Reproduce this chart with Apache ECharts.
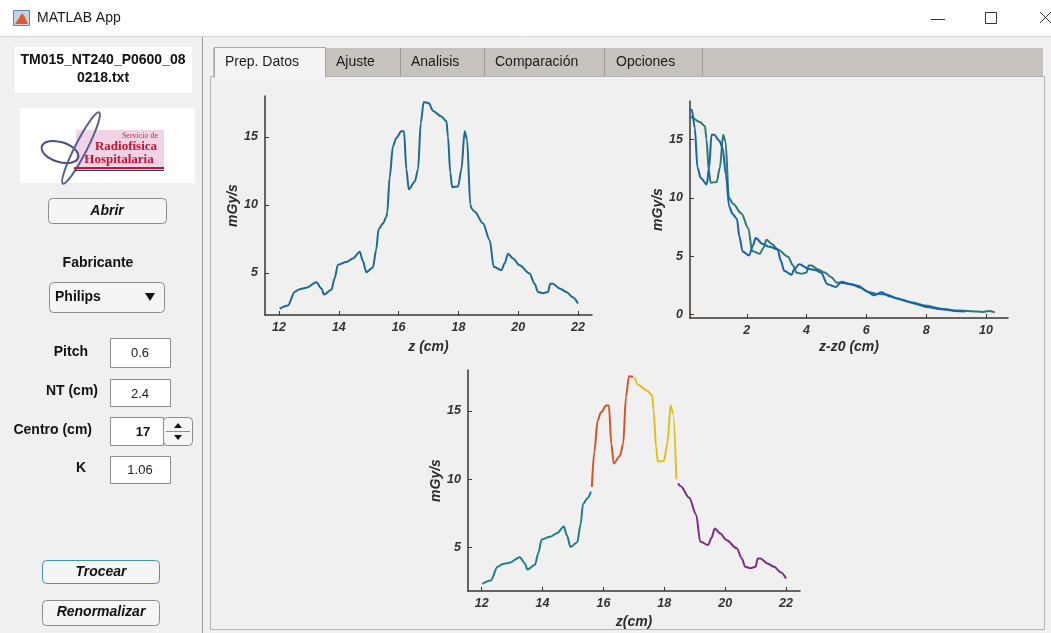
<!DOCTYPE html>
<html>
<head>
<meta charset="utf-8">
<title>MATLAB App</title>
<script src="https://cdn.jsdelivr.net/npm/echarts@6.0.0/dist/echarts.min.js"></script>
<style>
  html, body { margin: 0; padding: 0; background: #f0f0f0; }
  #app { width: 1051px; height: 633px; }
</style>
</head>
<body>
<div id="app"></div>
<script>
// dose profile along z (cm) -> mGy/s
var profileZ = [12.02, 12.3, 12.52, 12.69, 12.91, 13.25, 13.42, 13.5, 13.75, 13.86, 13.97, 14.25, 14.47, 14.7, 14.8, 14.92,
  15.14, 15.25, 15.33, 15.47, 15.59, 15.62, 15.7, 15.81, 15.92, 16.09, 16.18, 16.26, 16.34, 16.54, 16.65, 16.74, 16.84, 16.98,
  17.02, 17.15, 17.43, 17.6, 17.65, 17.73, 17.79, 17.99, 18.1, 18.21, 18.29, 18.4, 18.45, 18.54, 18.82, 19.05, 19.18, 19.44,
  19.55, 19.66, 19.83, 20.05, 20.38, 20.55, 20.66, 20.83, 21.0, 21.07, 21.16, 21.39, 21.61, 21.83, 22.0];
var profileDose = [2.36, 2.6, 3.6, 3.8, 3.9, 4.3, 3.85, 3.4, 3.75, 4.6, 5.6, 5.8, 6.05, 6.55, 5.9, 5.05,
  5.4, 6.7, 8.2, 8.6, 9.1, 9.45, 12.0, 14.3, 14.9, 15.4, 15.4, 12.6, 11.15, 11.7, 12.6, 16.0, 17.55, 17.5,
  17.45, 16.9, 16.5, 16.15, 15.05, 12.35, 11.3, 11.35, 12.6, 15.4, 14.8, 10.0, 9.7, 9.5, 8.65, 7.4, 5.45, 5.2,
  5.7, 6.4, 6.05, 5.55, 4.95, 4.2, 3.6, 3.5, 3.6, 4.2, 4.2, 3.85, 3.6, 3.2, 2.75];

// folded profile, z - z0 (cm)
var leftDist = [0.02, 0.16, 0.26, 0.35, 0.46, 0.66, 0.74, 0.82, 0.91, 1.08, 1.19, 1.3, 1.41, 1.53, 1.67, 1.75, 1.86,
  2.08, 2.2, 2.3, 2.53, 2.75, 3.03, 3.14, 3.25, 3.5, 3.58, 3.75, 4.09, 4.31, 4.48, 4.7, 4.98,
  5.17, 5.45, 5.75, 6.0, 6.25, 6.5, 6.8, 7.2, 7.6, 8.0, 8.5, 9.0, 9.3];
var leftDose = [17.6, 17.55, 16.0, 12.6, 11.7, 11.15, 12.6, 15.4, 15.4, 14.9, 14.3, 12.0, 9.25, 8.6, 8.2, 6.7, 5.4,
  5.05, 5.9, 6.55, 6.05, 5.8, 5.6, 4.6, 3.75, 3.4, 3.85, 4.3, 3.9, 3.8, 3.6, 2.6, 2.36,
  2.8, 2.6, 2.45, 2.0, 1.65, 1.9, 1.55, 1.25, 0.95, 0.65, 0.45, 0.3, 0.25];
var rightDist = [0.03, 0.15, 0.43, 0.6, 0.65, 0.73, 0.79, 0.99, 1.1, 1.21, 1.29, 1.4, 1.54, 1.82, 2.05, 2.18, 2.44,
  2.55, 2.66, 2.83, 3.05, 3.38, 3.55, 3.66, 3.83, 4.0, 4.07, 4.16, 4.39, 4.61, 4.83, 5.0,
  5.2, 5.5, 5.8, 6.1, 6.4, 6.7, 7.0, 7.5, 8.0, 8.5, 9.0, 9.5, 9.9, 10.1, 10.3];
var rightDose = [17.45, 16.9, 16.5, 16.15, 15.05, 12.35, 11.3, 11.35, 12.6, 15.4, 14.8, 10.0, 9.5, 8.65, 7.4, 5.45, 5.2,
  5.7, 6.4, 6.05, 5.55, 4.95, 4.2, 3.6, 3.5, 3.6, 4.2, 4.2, 3.85, 3.6, 3.2, 2.75,
  2.7, 2.6, 2.3, 1.9, 1.75, 1.7, 1.4, 1.05, 0.75, 0.5, 0.35, 0.28, 0.22, 0.3, 0.18];

// section limits used to cut the profile (Centro 17, NT 2.4)
var sectionCuts = [15.6, 17.0, 18.42];

var zTicks = [12, 14, 16, 18, 20, 22];
var doseTicks = [5, 10, 15];
var distTicks = [2, 4, 6, 8, 10];
var doseTicksZero = [0, 5, 10, 15];

var FONT = '"Liberation Sans", Arial, sans-serif';
var SERIF = '"Liberation Serif", "DejaVu Serif", serif';

function pairs(xs, ys) {
  return xs.map(function (x, i) { return [x, ys[i]]; });
}

function section(k) {
  var lo = k === 0 ? -Infinity : sectionCuts[k - 1];
  var hi = k === sectionCuts.length ? Infinity : sectionCuts[k];
  var out = [];
  for (var i = 0; i < profileZ.length; i++) {
    if (profileZ[i] >= lo && profileZ[i] < hi) out.push([profileZ[i], profileDose[i]]);
  }
  return out;
}

function axis(grid, min, max, ticks, name, gap, isY) {
  return {
    type: 'value', gridIndex: grid, min: min, max: max,
    name: name, nameLocation: 'middle', nameGap: gap,
    nameTextStyle: { fontFamily: FONT, fontWeight: 'bold', fontStyle: 'italic', fontSize: 14, color: '#2b2b2b' },
    axisLine: { show: true, onZero: false, lineStyle: { color: '#3a3530', width: 1.5 } },
    axisTick: { show: true, inside: true, length: 4, customValues: ticks, lineStyle: { color: '#3a3530' } },
    axisLabel: { customValues: ticks, fontFamily: FONT, fontWeight: 'bold', fontStyle: 'italic',
      fontSize: 12.5, color: '#333', margin: isY ? 7 : 6 },
    splitLine: { show: false }
  };
}

function line(grid, data, color) {
  return {
    type: 'line', xAxisIndex: grid, yAxisIndex: grid, data: data,
    showSymbol: false, smooth: 0.3, smoothMonotone: 'x', silent: true,
    lineStyle: { color: color, width: 2 }, z: 3
  };
}

// ---- window chrome drawn with graphic elements ----
function txt(x, y, s, font, align, color) {
  return { type: 'text', x: x, y: y, silent: true,
    style: { text: s, font: font, fill: color || '#111', align: align || 'left', verticalAlign: 'middle' } };
}
function box(x, y, w, h, fill, stroke, r) {
  return { type: 'rect', silent: true, shape: { x: x, y: y, width: w, height: h, r: r || 0 },
    style: { fill: fill, stroke: stroke || null, lineWidth: 1 } };
}
function seg(x1, y1, x2, y2, color, w) {
  return { type: 'line', silent: true, shape: { x1: x1, y1: y1, x2: x2, y2: y2 },
    style: { stroke: color, lineWidth: w || 1 } };
}

var ui = [];
// title bar
ui.push(box(0, 0, 1051, 36, '#ffffff'));
ui.push(seg(0, 36.5, 1051, 36.5, '#d6d6d6'));
ui.push(box(13.5, 10.5, 16, 15, '#c7d3e3', '#6a85ab'));
ui.push({ type: 'polygon', silent: true, shape: { points: [[15, 24], [19, 18], [22, 13], [25, 17], [28, 24]] },
  style: { fill: '#de5a2b' } });
ui.push(txt(37, 18, 'MATLAB App', '14px ' + FONT, 'left', '#1a1a1a'));
ui.push(seg(931, 19.5, 945, 19.5, '#333'));
ui.push(box(985.5, 12.5, 11, 11, 'none', '#333'));
ui.push(seg(1040, 12, 1051, 23, '#333'));
ui.push(seg(1051, 12, 1040, 23, '#333'));

// left panel
ui.push(seg(202.5, 37, 202.5, 633, '#9b9b9b'));
ui.push(box(15, 47, 177, 46, '#ffffff'));
ui.push(txt(103, 60, 'TM015_NT240_P0600_08', 'bold 14px ' + FONT, 'center'));
ui.push(txt(103, 78, '0218.txt', 'bold 14px ' + FONT, 'center'));

// logo
ui.push(box(20, 108, 175, 75, '#ffffff'));
ui.push(box(76, 130, 88, 41, '#f0d4e6'));
ui.push({ type: 'ellipse', silent: true, x: 60, y: 152, rotation: -0.3,
  shape: { cx: 0, cy: 0, rx: 19, ry: 10 }, style: { fill: 'none', stroke: '#4b4f8c', lineWidth: 2 } });
ui.push({ type: 'ellipse', silent: true, x: 81, y: 148, rotation: 1.1,
  shape: { cx: 0, cy: 0, rx: 40, ry: 6 }, style: { fill: 'none', stroke: '#5a5f98', lineWidth: 2 } });
ui.push(txt(140, 136, 'Servicio de', '8px ' + SERIF, 'center', '#c8303a'));
ui.push(txt(126, 147, 'Radiofísica', 'bold 13px ' + SERIF, 'center', '#c8102e'));
ui.push(txt(119, 160, 'Hospitalaria', 'bold 13px ' + SERIF, 'center', '#c8102e'));
ui.push(seg(74, 168, 164, 168, '#d0102a', 2));
ui.push(seg(74, 170.5, 164, 170.5, '#2c3a8c', 1));

ui.push(box(48.5, 198.5, 118, 25, '#f5f5f5', '#8c8c8c', 4));
ui.push(txt(107, 211, 'Abrir', 'italic bold 14px ' + FONT, 'center'));
ui.push(txt(98, 263, 'Fabricante', 'bold 14px ' + FONT, 'center'));
ui.push(box(49.5, 282.5, 115, 30, '#f5f5f5', '#8c8c8c', 4));
ui.push(txt(55, 297, 'Philips', 'bold 14px ' + FONT, 'left'));
ui.push({ type: 'polygon', silent: true, shape: { points: [[145, 293], [155, 293], [150, 301]] }, style: { fill: '#111' } });

ui.push(txt(88, 352, 'Pitch', 'bold 14px ' + FONT, 'right'));
ui.push(box(110.5, 338.5, 60, 29, '#ffffff', '#8c8c8c'));
ui.push(txt(140, 353, '0.6', '13px ' + FONT, 'center', '#222'));
ui.push(txt(98, 391, 'NT (cm)', 'bold 14px ' + FONT, 'right'));
ui.push(box(110.5, 379.5, 60, 27, '#ffffff', '#8c8c8c'));
ui.push(txt(140, 394, '2.4', '13px ' + FONT, 'center', '#222'));
ui.push(txt(92, 430, 'Centro (cm)', 'bold 14px ' + FONT, 'right'));
ui.push(box(110.5, 417.5, 53, 28, '#ffffff', '#8c8c8c'));
ui.push(txt(143, 432, '17', 'bold 13px ' + FONT, 'center'));
ui.push(box(163.5, 417.5, 29, 28, '#f5f5f5', '#8c8c8c', 4));
ui.push(seg(166, 431.5, 190, 431.5, '#8c8c8c'));
ui.push({ type: 'polygon', silent: true, shape: { points: [[174, 428], [182, 428], [178, 423]] }, style: { fill: '#111' } });
ui.push({ type: 'polygon', silent: true, shape: { points: [[174, 435], [182, 435], [178, 440]] }, style: { fill: '#111' } });
ui.push(txt(86, 468, 'K', 'bold 14px ' + FONT, 'right'));
ui.push(box(110.5, 456.5, 60, 27, '#ffffff', '#8c8c8c'));
ui.push(txt(140, 470, '1.06', '13px ' + FONT, 'center', '#222'));

ui.push(box(42.5, 560.5, 117, 23, '#f5f5f5', '#3f98a8', 4));
ui.push(txt(101, 572, 'Trocear', 'italic bold 14px ' + FONT, 'center'));
ui.push(box(42.5, 600.5, 117, 25, '#f5f5f5', '#8c8c8c', 4));
ui.push(txt(101, 612, 'Renormalizar', 'italic bold 14px ' + FONT, 'center'));

// tab panel
ui.push(box(210.5, 76.5, 834, 553, '#f0f0f0', '#b4b4b4'));
ui.push(box(213, 48, 830, 28, '#c6c3be'));
ui.push(box(214.5, 47.5, 111, 30, '#f4f4f4', '#a8a8a8'));
ui.push(seg(215, 77.5, 325, 77.5, '#f4f4f4', 2));
[400.5, 484.5, 604.5, 702.5].forEach(function (x) { ui.push(seg(x, 48, x, 76, '#a09c96')); });
ui.push(txt(225, 62, 'Prep. Datos', '14px ' + FONT, 'left', '#1a1a1a'));
ui.push(txt(336, 62, 'Ajuste', '14px ' + FONT, 'left', '#1a1a1a'));
ui.push(txt(411, 62, 'Analisis', '14px ' + FONT, 'left', '#1a1a1a'));
ui.push(txt(495, 62, 'Comparación', '14px ' + FONT, 'left', '#1a1a1a'));
ui.push(txt(616, 62, 'Opciones', '14px ' + FONT, 'left', '#1a1a1a'));

var option = {
  backgroundColor: '#f0f0f0',
  animation: false,
  graphic: { elements: ui },
  grid: [
    { left: 265, top: 96, width: 327, height: 219, show: true, backgroundColor: '#ffffff', borderWidth: 0 },
    { left: 690, top: 101, width: 318, height: 217, show: true, backgroundColor: '#ffffff', borderWidth: 0 },
    { left: 468, top: 370, width: 332, height: 221, show: true, backgroundColor: '#ffffff', borderWidth: 0 }
  ],
  xAxis: [
    axis(0, 11.53, 22.47, zTicks, 'z (cm)', 25, false),
    axis(1, 0.1, 10.74, distTicks, 'z-z0 (cm)', 22, false),
    axis(2, 11.55, 22.46, zTicks, 'z(cm)', 24, false)
  ],
  yAxis: [
    axis(0, 1.9, 18, doseTicks, 'mGy/s', 23, true),
    axis(1, -0.3, 18.3, doseTicksZero, 'mGy/s', 23, true),
    axis(2, 1.83, 18, doseTicks, 'mGy/s', 24, true)
  ],
  series: [
    line(0, pairs(profileZ, profileDose), '#1c6b8e'),
    line(1, pairs(rightDist, rightDose), '#2a7a70'),
    line(1, pairs(leftDist, leftDose), '#1762b0'),
    line(2, section(0), '#1e7f86'),
    line(2, section(1), '#d2552a'),
    line(2, section(2), '#e2bf1c'),
    line(2, section(3), '#7b2d82')
  ]
};

echarts.init(document.getElementById('app')).setOption(option);
</script>
</body>
</html>
